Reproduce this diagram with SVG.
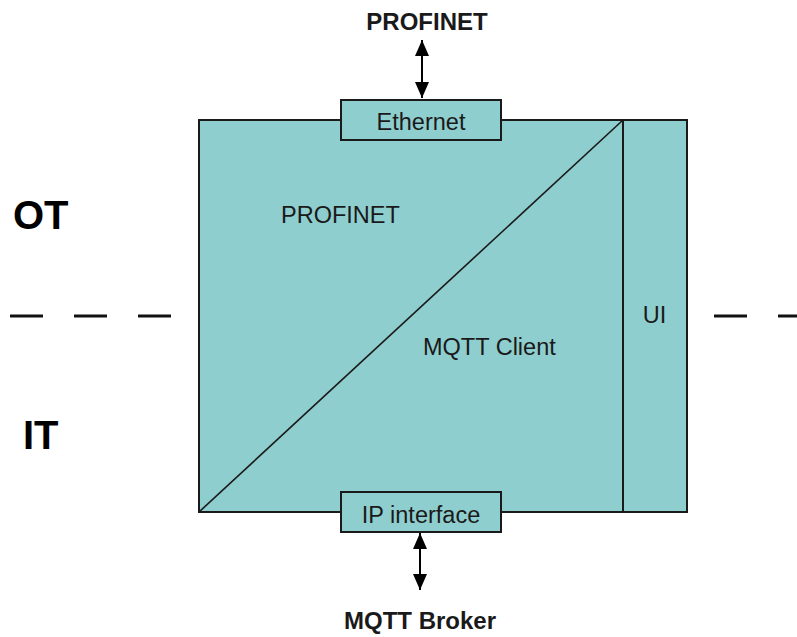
<svg xmlns="http://www.w3.org/2000/svg" width="797" height="637" viewBox="0 0 797 637">
<defs>
<style>
.box{fill:#8fcece;stroke:#1a1a1a;stroke-width:2}
.t{font-family:"Liberation Sans",Arial,sans-serif;font-size:23.5px;fill:#1a1a1a}
.b{font-weight:bold;font-size:24px}
.big{font-family:"Liberation Sans",Arial,sans-serif;font-size:40px;font-weight:bold;fill:#000}
.dash{stroke:#111;stroke-width:3;stroke-dasharray:33 31}
.arr{stroke:#000;stroke-width:2;fill:none;marker-start:url(#ah);marker-end:url(#ah)}
</style>
<marker id="ah" viewBox="0 0 16 14" refX="16" refY="7" markerWidth="16" markerHeight="14" orient="auto-start-reverse" markerUnits="userSpaceOnUse">
<path d="M0,0 L16,7 L0,14 z" fill="#000"/>
</marker>
</defs>
<rect width="797" height="637" fill="#fff"/>
<g id="zones">
<text class="big" x="13" y="229">OT</text>
<text class="big" x="23" y="449">IT</text>
<line class="dash" x1="10" y1="316" x2="175" y2="316"/>
<line class="dash" x1="714" y1="316" x2="797" y2="316"/>
</g>
<g id="device">
<rect class="box" x="199" y="120" width="488" height="392"/>
<line x1="199" y1="512" x2="623" y2="120" stroke="#1a1a1a" stroke-width="1.6"/>
<line x1="623" y1="120" x2="623" y2="512" stroke="#1a1a1a" stroke-width="2"/>
<text class="t" x="281" y="223">PROFINET</text>
<text class="t" x="423" y="355">MQTT Client</text>
<text class="t" x="654.5" y="323" text-anchor="middle">UI</text>
</g>
<g id="ethernet">
<rect class="box" x="341" y="100" width="160" height="40"/>
<text class="t" x="421" y="130" text-anchor="middle">Ethernet</text>
</g>
<g id="ip-interface">
<rect class="box" x="341" y="492" width="160" height="40"/>
<text class="t" x="421" y="523" text-anchor="middle">IP interface</text>
</g>
<g id="profinet-ext">
<text class="t b" x="427" y="30" text-anchor="middle">PROFINET</text>
</g>
<g id="mqtt-broker">
<text class="t b" x="420" y="629" text-anchor="middle">MQTT Broker</text>
</g>
<g id="connectors">
<line class="arr" x1="422" y1="40" x2="422" y2="98"/>
<line class="arr" x1="420" y1="533" x2="420" y2="590"/>
</g>
</svg>
